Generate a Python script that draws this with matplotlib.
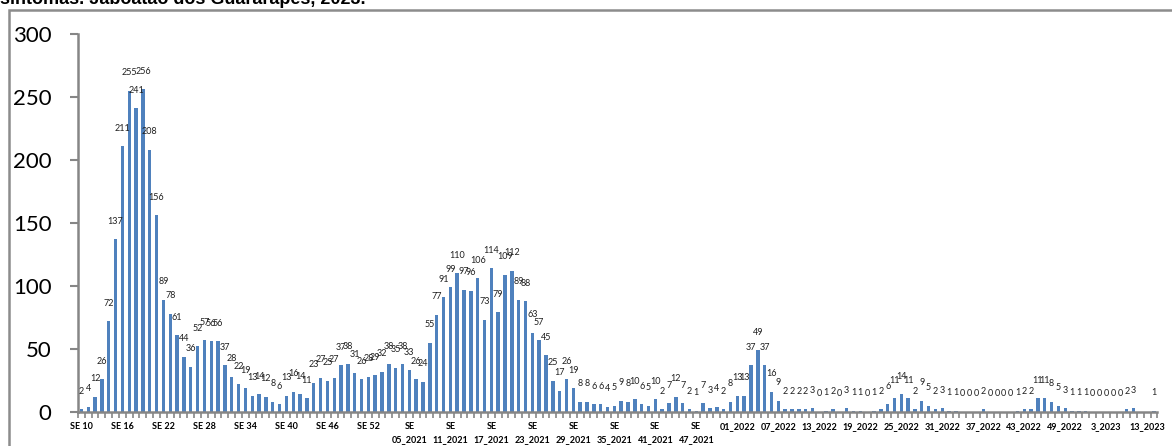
import numpy as np
import matplotlib
matplotlib.use('Agg')
import matplotlib.pyplot as plt
from matplotlib.patches import Rectangle

# casos por semana epidemiológica (SE 10/2020 até 2023)
casos_2020 = [2, 4, 12, 26, 72, 137, 211, 255, 241, 256, 208, 156, 89, 78, 61, 44, 36, 52, 57, 56,
              56, 37, 28, 22, 19, 13, 14, 12, 8, 6, 13, 16, 14, 11, 23, 27, 25, 27, 37, 38,
              31, 26, 28, 29]
casos_2021 = [32, 38, 35, 38, 33, 26, 24, 55, 77, 91, 99, 110, 97, 96, 106, 73, 114, 79, 109, 112,
              89, 88, 63, 57, 45, 25, 17, 26, 19, 8, 8, 6, 6, 4, 5, 9, 8, 10, 6, 5,
              10, 2, 7, 12, 7, 2, 1, 7, 3, 4, 2, 8]
casos_2022 = [13, 13, 37, 49, 37, 16, 9, 2, 2, 2, 2, 3, 0, 1, 2, 0, 3, 1, 1, 0,
              1, 2, 6, 11, 14, 11, 2, 9, 5, 2, 3, 1, 1, 0, 0, 0, 2, 0, 0, 0,
              0, 1, 2, 2, 11, 11, 8, 5, 3, 1, 1, 1]
casos_2023 = [0, 0, 0, 0, 0, 2, 3, np.nan, np.nan, 1]

rotulos = ['SE 10', 'SE 16', 'SE 22', 'SE 28', 'SE 34', 'SE 40', 'SE 46', 'SE 52',
           'SE\n05_2021', 'SE\n11_2021', 'SE\n17_2021', 'SE\n23_2021', 'SE\n29_2021',
           'SE\n35_2021', 'SE\n41_2021', 'SE\n47_2021',
           '01_2022', '07_2022', '13_2022', '19_2022', '25_2022', '31_2022', '37_2022',
           '43_2022', '49_2022', '3_2023', '13_2023']

titulo = 'sintomas. Jaboatão dos Guararapes, 2023.'

casos = np.array(casos_2020 + casos_2021 + casos_2022 + casos_2023, dtype=float)
x = np.arange(len(casos))

W, H = 1172, 446
fig = plt.figure(figsize=(W / 100, H / 100), dpi=100)
ax = fig.add_axes([78 / W, (H - 412) / H, (1157.5 - 78) / W, 378 / H])

cinza = '#868686'
ax.bar(x, np.nan_to_num(casos), width=0.5, color='#4f81bd')

# rótulos de dados
for xi, v in zip(x, casos):
    if np.isnan(v):
        continue
    ax.annotate('%d' % v, (xi, v), xytext=(0, 13), textcoords='offset points',
                ha='center', va='center', fontsize=6.5, family='Lato', color='#202020')

ax.set_xlim(-0.5, len(casos) - 0.5)
ax.set_ylim(0, 300)
ax.set_yticks([0, 50, 100, 150, 200, 250, 300])
ax.tick_params(axis='y', length=6, width=1.5, color=cinza, pad=13, labelsize=16)
for lab in ax.get_yticklabels():
    lab.set_family('Lato')

ax.set_xticks(np.arange(0, len(casos), 6))
ax.set_xticklabels(rotulos, fontsize=6.5, fontweight='bold', family='Lato', linespacing=1.6, va='top')
ax.tick_params(axis='x', length=0, pad=7)
ax.set_xticks(np.arange(-0.5, len(casos), 1), minor=True)
ax.tick_params(axis='x', which='minor', length=4, width=1.2, color=cinza)

ax.spines['top'].set_visible(False)
ax.spines['right'].set_visible(False)
ax.spines['left'].set_color(cinza)
ax.spines['bottom'].set_color(cinza)
ax.spines['left'].set_linewidth(1.8)
ax.spines['bottom'].set_linewidth(1.8)

# moldura da área do gráfico
fig.add_artist(Rectangle((8.5 / W, -0.1), 1.2, 1.1 - 10 / H, transform=fig.transFigure,
                         fill=False, ec='#8c8c8c', lw=1.8))

fig.text(0.0, 1 - 4 / H, titulo, fontsize=13, fontweight='bold', family='Liberation Sans',
         va='baseline', ha='left')

fig.savefig('out.png', dpi=100)
